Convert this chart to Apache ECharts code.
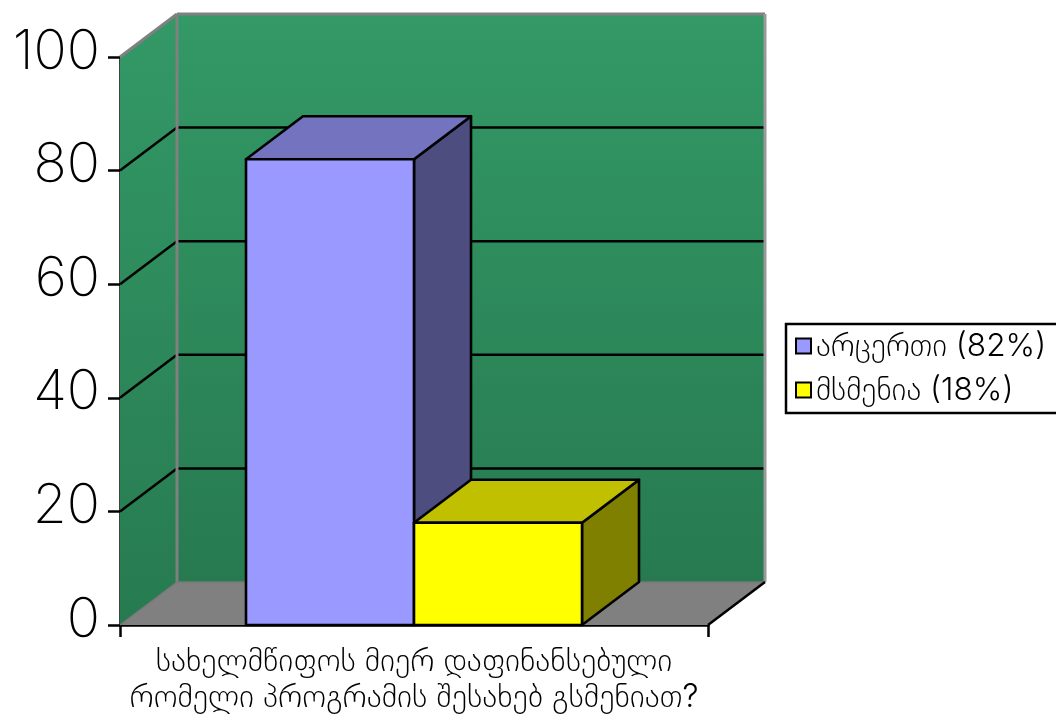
<!DOCTYPE html>
<html><head><meta charset="utf-8">
<style>html,body{margin:0;padding:0;background:#fff}#c{width:1056px;height:718px}</style>
<script src="https://cdn.jsdelivr.net/npm/echarts@6/dist/echarts.min.js"></script>
</head><body><div id="c"></div>
<script>
const categories = ['სახელმწიფოს მიერ დაფინანსებული\nრომელი პროგრამის შესახებ გსმენიათ?'];
const seriesNames = ['არცერთი (82%)', 'მსმენია (18%)'];
const noneValues = [82];
const heardValues = [18];
const gridLevels = [20, 40, 60, 80];
const DX = 57, DY = -43;
const FONT = 'Inter, "DejaVu Sans", sans-serif';
const wallFill = {type:'linear',x:0,y:0,x2:0,y2:1,colorStops:[{offset:0,color:'#339966'},{offset:1,color:'#277a50'}]};

function chrome(params, api){
  const size = api.size([1,0])[0];
  const p0 = api.coord([0,0]), pTop = api.coord([0,100]);
  const L = p0[0]-size/2, R = p0[0]+size/2, B = p0[1], T = pTop[1];
  const kids = [];
  const poly = (pts, fill) => ({type:'polygon',shape:{points:pts},style:{fill:fill,stroke:null}});
  const line = (a,b,c,w) => ({type:'line',shape:{x1:a[0],y1:a[1],x2:b[0],y2:b[1]},style:{stroke:c,lineWidth:w}});
  kids.push(poly([[L,B],[L,T],[L+DX,T+DY],[L+DX,B+DY]], wallFill));
  kids.push(poly([[L+DX,T+DY],[R+DX,T+DY],[R+DX,B+DY],[L+DX,B+DY]], wallFill));
  kids.push(poly([[L,B],[L+DX,B+DY],[R+DX,B+DY],[R,B]], '#808080'));
  gridLevels.forEach(v=>{
    const y = api.coord([0,v])[1];
    kids.push(line([L,y],[L+DX,y+DY],'#000',2.5));
    kids.push(line([L+DX,y+DY],[R+DX,y+DY],'#000',2.5));
  });
  kids.push(line([L,T],[L+DX,T+DY],'#808080',3));
  kids.push(line([L+DX,T+DY],[R+DX,T+DY],'#808080',3));
  kids.push(line([L+DX,T+DY],[L+DX,B+DY],'#808080',3));
  kids.push(line([R+DX,T+DY],[R+DX,B+DY],'#999',3));
  kids.push(line([L+DX,B+DY],[R+DX,B+DY],'#777',1.5));
  kids.push(line([L,B],[L+DX,B+DY],'#777',1.5));
  kids.push(line([R,B],[R+DX,B+DY],'#000',2.5));
  return {type:'group',children:kids};
}
function bar3d(slot, front, top, side){
  return function(params, api){
    const size = api.size([1,0])[0], w = size*2/7;
    const c = api.coord([api.value(0), api.value(1)]), b = api.coord([api.value(0),0]);
    const x0 = c[0]+(slot-1)*w, x1 = x0+w, yT = c[1], yB = b[1];
    const st = f => ({fill:f,stroke:'#000',lineWidth:2.6,lineJoin:'round'});
    return {type:'group',children:[
      {type:'polygon',shape:{points:[[x1,yT],[x1+DX,yT+DY],[x1+DX,yB+DY],[x1,yB]]},style:st(side)},
      {type:'polygon',shape:{points:[[x0,yT],[x0+DX,yT+DY],[x1+DX,yT+DY],[x1,yT]]},style:st(top)},
      {type:'rect',shape:{x:x0,y:yT,width:w,height:yB-yT},style:st(front)}
    ]};
  };
}
const chart = echarts.init(document.getElementById('c'),null,{renderer:'canvas'});
chart.setOption({
  animation:false,
  backgroundColor:'#fff',
  grid:{left:120,top:57,width:588,height:568},
  xAxis:{type:'category',data:categories,
    axisLine:{lineStyle:{color:'#000',width:2.5}},
    axisTick:{show:true,length:12,alignWithLabel:false,lineStyle:{color:'#000',width:2.5}},
    axisLabel:{color:'#000',fontSize:32,fontFamily:FONT,fontWeight:300,lineHeight:36,margin:18,interval:0}},
  yAxis:{type:'value',min:0,max:100,interval:20,
    axisLine:{show:true,lineStyle:{color:'#000',width:2.5}},
    axisTick:{show:true,length:12,lineStyle:{color:'#000',width:2.5}},
    splitLine:{show:false},
    axisLabel:{color:'#000',fontSize:55,fontFamily:FONT,fontWeight:200,margin:20,verticalAlign:'bottom',lineHeight:10}},
  legend:{left:786,top:324,orient:'vertical',itemWidth:15,itemHeight:15,itemGap:8,
    padding:[4,60,5,9],backgroundColor:'#fff',borderColor:'#000',borderWidth:2.5,borderRadius:0,
    textStyle:{color:'#000',fontSize:31.6,fontFamily:FONT,fontWeight:300,lineHeight:36},
    data:seriesNames.map(n=>({name:n,icon:'rect'}))},
  series:[
    {type:'custom',silent:true,data:[[0,0]],renderItem:chrome,z:1,clip:false,legendHoverLink:false},
    {type:'custom',name:seriesNames[0],data:noneValues.map((v,i)=>[i,v]),renderItem:bar3d(0,'#9999ff','#7373bf','#4d4d80'),z:2,clip:false,
      itemStyle:{color:'#9999ff',borderColor:'#000',borderWidth:2.5}},
    {type:'custom',name:seriesNames[1],data:heardValues.map((v,i)=>[i,v]),renderItem:bar3d(1,'#ffff00','#c0c000','#808000'),z:3,clip:false,
      itemStyle:{color:'#ffff00',borderColor:'#000',borderWidth:2.5}}
  ]
});
</script></body></html>
